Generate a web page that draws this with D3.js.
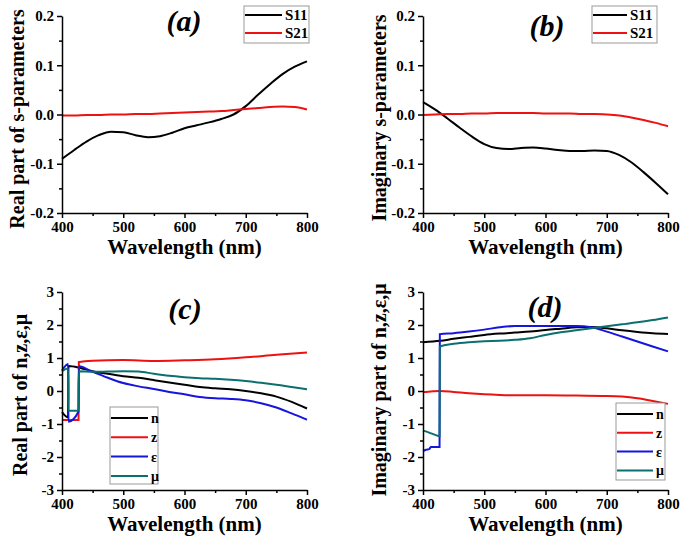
<!DOCTYPE html>
<html>
<head>
<meta charset="utf-8">
<script src="https://cdn.jsdelivr.net/npm/d3@7"></script>
<style>
  body { margin: 0; background: #fff; }
  svg text { font-family: "Liberation Serif", "Times New Roman", serif; font-weight: bold; }
  .axis path, .axis line { stroke: #000; stroke-width: 1.5; }
  .axis text { font-size: 15px; fill: #000; }
</style>
</head>
<body>
<div id="chart-area"></div>
<script>
// SVG Size
var width = 685,
	height = 538;

// wavelength grid for the s-parameter panels
var wl = [400,420,440,460,480,500,520,540,560,580,600,620,640,660,680,700,720,740,760,780,800];
var reS11 = [-0.09,-0.072,-0.055,-0.042,-0.035,-0.036,-0.042,-0.046,-0.044,-0.037,-0.028,-0.022,-0.016,-0.009,0.0,0.017,0.04,0.062,0.082,0.097,0.108];
var reS21 = [-0.002,-0.002,-0.001,-0.001,0.0,0.0,0.001,0.001,0.002,0.003,0.004,0.005,0.006,0.007,0.009,0.011,0.013,0.015,0.016,0.015,0.01];
var imS11 = [0.025,0.01,-0.008,-0.027,-0.045,-0.06,-0.068,-0.07,-0.068,-0.067,-0.069,-0.072,-0.074,-0.074,-0.073,-0.074,-0.082,-0.097,-0.117,-0.139,-0.162];
var imS21 = [-0.001,0.0,0.001,0.001,0.002,0.002,0.003,0.003,0.003,0.003,0.002,0.002,0.002,0.001,0.001,0.0,-0.002,-0.006,-0.011,-0.017,-0.024];

// retrieved parameters, [wavelength, value] (jumps near 410 and 428 nm)
var reN = [[400,-0.64],[410,-0.8],[410.5,0.76],[430,0.7],[450,0.6],[475,0.52],[500,0.45],[525,0.4],[550,0.33],[575,0.26],[600,0.19],[625,0.12],[650,0.08],[675,0.05],[700,0.0],[725,-0.07],[750,-0.17],[775,-0.33],[800,-0.53]];
var reZ = [[400,-0.88],[427,-0.88],[427.5,0.88],[450,0.92],[500,0.94],[550,0.91],[600,0.93],[650,0.96],[700,1.02],[750,1.1],[800,1.17]];
var reEps = [[400,0.62],[410,0.82],[410.5,-0.93],[427,-0.62],[427.5,0.75],[450,0.58],[475,0.4],[500,0.24],[525,0.14],[550,0.06],[575,-0.03],[600,-0.1],[625,-0.18],[650,-0.22],[675,-0.24],[700,-0.28],[725,-0.37],[750,-0.5],[775,-0.68],[800,-0.87]];
var reMu = [[400,0.6],[410,0.68],[410.5,-0.6],[427,-0.6],[427.5,0.6],[450,0.58],[475,0.59],[500,0.6],[525,0.59],[550,0.52],[575,0.46],[600,0.42],[625,0.39],[650,0.37],[675,0.34],[700,0.3],[725,0.25],[750,0.19],[775,0.12],[800,0.05]];

var imN = [[400,1.48],[428,1.52],[450,1.58],[475,1.64],[500,1.7],[525,1.74],[550,1.77],[575,1.8],[600,1.85],[625,1.89],[650,1.93],[675,1.94],[700,1.9],[725,1.84],[750,1.79],[775,1.75],[800,1.73]];
var imZ = [[400,-0.04],[428,0.0],[450,-0.03],[475,-0.07],[500,-0.1],[525,-0.12],[550,-0.13],[600,-0.13],[650,-0.14],[700,-0.15],[725,-0.17],[750,-0.22],[775,-0.3],[800,-0.39]];
var imEps = [[400,-1.82],[405,-1.78],[410,-1.76],[413,-1.7],[427,-1.7],[427.5,1.72],[450,1.75],[475,1.8],[500,1.86],[525,1.93],[550,1.97],[600,1.97],[650,1.97],[675,1.93],[700,1.8],[725,1.65],[750,1.5],[775,1.35],[800,1.2]];
var imMu = [[400,-1.2],[410,-1.26],[420,-1.33],[427,-1.37],[427.5,1.35],[450,1.43],[475,1.48],[500,1.51],[525,1.52],[550,1.55],[575,1.6],[600,1.7],[625,1.78],[650,1.84],[675,1.9],[700,1.96],[725,2.02],[750,2.08],[775,2.15],[800,2.23]];

// ticks
var xTicks = [400,500,600,700,800];
var xMinor = [450,550,650,750];
var sTicks = [-0.2,-0.1,0.0,0.1,0.2];
var sMinor = [-0.15,-0.05,0.05,0.15];
var pTicks = [-3,-2,-1,0,1,2,3];
var pMinor = [-2.5,-1.5,-0.5,0.5,1.5,2.5];

var sNames = ["S11","S21"];
var pNames = ["n","z","\u03b5","\u03bc"];
var colors = ["#000000","#ee1111","#1515dd","#0b6f6f"];

function zipWl(vals){
	return vals.map(function(v,i){ return [wl[i], v]; });
}

var svg = d3.select("#chart-area")
		.append("svg")
		.attr("width",width)
		.attr("height",height);

function drawPanel(p){
	var x = d3.scaleLinear().domain([400,800]).range([p.left, p.right]);
	var y = d3.scaleLinear().domain(p.yDomain).range([p.bottom, p.top]);
	var g = svg.append("g");

	var line = d3.line()
			.x(function(d){ return x(d[0]); })
			.y(function(d){ return y(d[1]); })
			.curve(d3.curveMonotoneX);

	p.series.forEach(function(s,i){
		g.append("path")
			.attr("d", line(s))
			.attr("fill","none")
			.attr("stroke", colors[i])
			.attr("stroke-width",2);
	});

	// minor ticks
	g.append("g").attr("class","axis")
			.attr("transform","translate(0,"+p.bottom+")")
			.call(d3.axisBottom(x).tickValues(xMinor).tickSize(3).tickFormat(""))
			.select(".domain").remove();
	g.append("g").attr("class","axis")
			.attr("transform","translate("+p.left+",0)")
			.call(d3.axisLeft(y).tickValues(p.minor).tickSize(3).tickFormat(""))
			.select(".domain").remove();

	g.append("g").attr("class","axis")
			.attr("transform","translate(0,"+p.bottom+")")
			.call(d3.axisBottom(x).tickValues(xTicks).tickSize(5).tickSizeOuter(0).tickPadding(3));
	g.append("g").attr("class","axis")
			.attr("transform","translate("+p.left+",0)")
			.call(d3.axisLeft(y).tickValues(p.ticks).tickSize(5).tickSizeOuter(0).tickPadding(3).tickFormat(p.fmt));

	// titles
	g.append("text").text("Wavelength (nm)")
			.attr("x",(p.left+p.right)/2)
			.attr("y",p.bottom+41)
			.attr("text-anchor","middle")
			.style("font-size","21px");
	g.append("text").text(p.yTitle)
			.attr("transform","translate("+p.yTitleX+","+p.yTitleY+") rotate(-90)")
			.attr("text-anchor","middle")
			.style("font-size","20px");
	g.append("text").text(p.tag)
			.attr("x",p.tagX)
			.attr("y",p.tagY)
			.attr("text-anchor","middle")
			.style("font-size","30px")
			.style("font-style","italic");

	// legend
	var L = p.legend;
	g.append("rect")
			.attr("x",L.x).attr("y",L.y)
			.attr("width",L.w).attr("height",L.h)
			.attr("fill","#fff")
			.attr("stroke","#999")
			.attr("stroke-width",1);
	p.names.forEach(function(n,i){
		var yy = L.y + L.first + i*L.step;
		g.append("line")
			.attr("x1",L.x+1).attr("x2",L.x+L.lineLen)
			.attr("y1",yy).attr("y2",yy)
			.attr("stroke",colors[i])
			.attr("stroke-width",2);
		g.append("text").text(n)
			.attr("x",L.x+L.lineLen+3)
			.attr("y",yy+5)
			.style("font-size",L.font);
	});
}

var fmt1 = function(d){ return d.toFixed(1); };
var fmt0 = function(d){ return String(d); };

drawPanel({ left:62, right:307, top:16, bottom:213, yDomain:[-0.2,0.2], ticks:sTicks, minor:sMinor, fmt:fmt1,
	series:[zipWl(reS11), zipWl(reS21)], names:sNames,
	yTitle:"Real part of s-parameters", yTitleX:24, yTitleY:119, tag:"(a)", tagX:184, tagY:31,
	legend:{x:244, y:6, w:65, h:37, first:9, step:18, lineLen:38, font:"15px"} });

drawPanel({ left:423, right:668, top:16, bottom:213, yDomain:[-0.2,0.2], ticks:sTicks, minor:sMinor, fmt:fmt1,
	series:[zipWl(imS11), zipWl(imS21)], names:sNames,
	yTitle:"Imaginary s-parameters", yTitleX:386, yTitleY:118, tag:"(b)", tagX:547, tagY:36,
	legend:{x:592, y:6, w:65, h:37, first:9, step:18, lineLen:35, font:"15px"} });

drawPanel({ left:62, right:307, top:292, bottom:490, yDomain:[-3,3], ticks:pTicks, minor:pMinor, fmt:fmt0,
	series:[reN, reZ, reEps, reMu], names:pNames,
	yTitle:"Real part of n,z,\u03b5,\u03bc", yTitleX:27, yTitleY:395, tag:"(c)", tagX:185, tagY:319,
	legend:{x:110, y:407, w:48, h:77, first:11, step:19.3, lineLen:38, font:"14px"} });

drawPanel({ left:423, right:668, top:292, bottom:490, yDomain:[-3,3], ticks:pTicks, minor:pMinor, fmt:fmt0,
	series:[imN, imZ, imEps, imMu], names:pNames,
	yTitle:"Imaginary part of n,z,\u03b5,\u03bc", yTitleX:386, yTitleY:390, tag:"(d)", tagX:545, tagY:317,
	legend:{x:616, y:403, w:49, h:77, first:11, step:18.8, lineLen:37, font:"14px"} });
</script>
</body>
</html>
